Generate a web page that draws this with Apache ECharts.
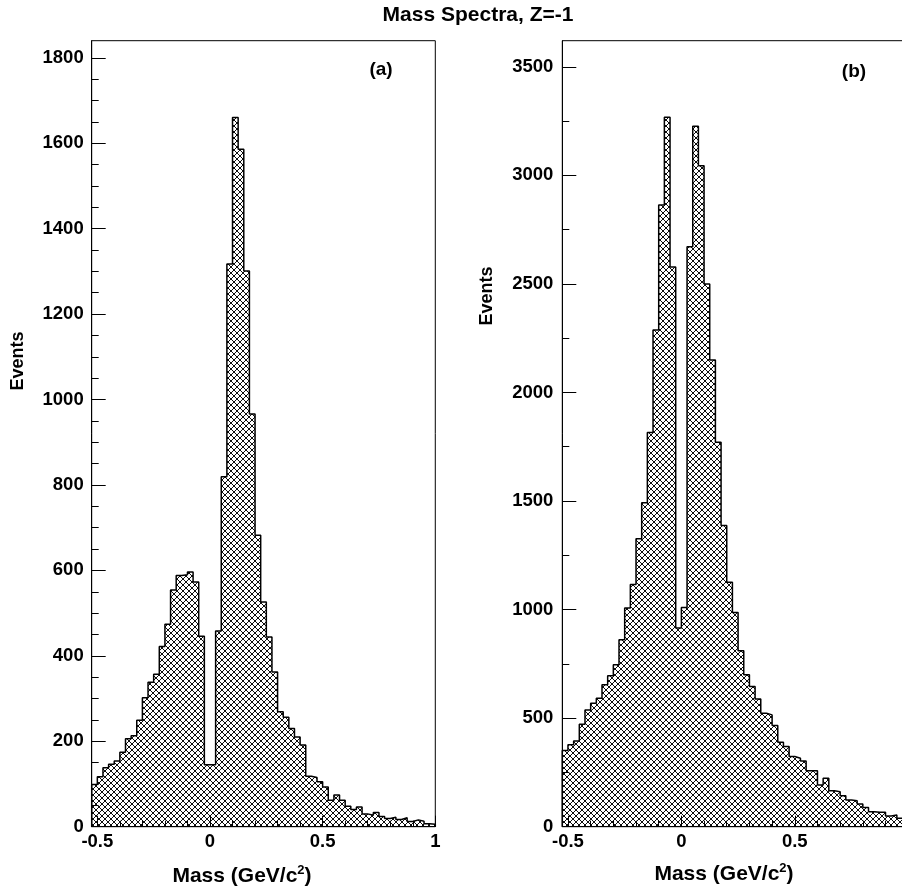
<!DOCTYPE html>
<html><head><meta charset="utf-8">
<script src="https://cdn.jsdelivr.net/npm/echarts@6/dist/echarts.min.js"></script>
<style>html,body{margin:0;padding:0;background:#fff}#c{width:902px;height:891px}</style>
</head><body><div id="c"></div>
<script>
// ---- data ----
const binStart = -0.525;
const binWidth = 0.025;
const countsA = [99,117,138,146,154,174,206,213,249,302,338,357,422,474,554,588,590,596,573,446,
  145,145,458,819,1317,1660,1586,1301,966,682,526,444,362,269,256,230,210,191,118,115,
  105,93,62,74,62,48,40,46,30,27,33,24,19,22,17,21,12,16,13,7,6];
const countsB = [351,377,395,472,538,569,592,654,695,746,861,1007,1115,1326,1492,1815,2288,2863,3267,2578,
  915,1010,2671,3226,3044,2499,2150,1771,1387,1126,987,810,700,646,588,523,515,466,389,369,
  323,315,303,258,258,192,223,166,161,142,123,120,105,88,69,66,66,49,54,39,35];
const xTickLabels = [-0.5, 0, 0.5, 1];
const xMinorTicks = [-0.4,-0.3,-0.2,-0.1,0.1,0.2,0.3,0.4,0.6,0.7,0.8,0.9];
const yTicksA = [0,200,400,600,800,1000,1200,1400,1600,1800];
const yTicksB = [0,500,1000,1500,2000,2500,3000,3500];
const titleText = 'Mass Spectra, Z=-1';
const xTitle = 'Mass (GeV/c{s|2})';
const yTitle = 'Events';
const panelLabels = ['(a)', '(b)'];

// ---- helpers ----
const FONT = '"Liberation Sans", Arial, Helvetica, sans-serif';
function minorList(step, major, max) {
  const out = [];
  for (let v = step; v < max; v += step) if (v % major !== 0) out.push(v);
  return out;
}
const yMinorA = minorList(50, 200, 1840);
const yMinorB = minorList(250, 500, 3620);

function histData(counts) {
  const d = [[binStart, 0]];
  counts.forEach((v, i) => d.push([+(binStart + i * binWidth).toFixed(4), v]));
  const end = +(binStart + counts.length * binWidth).toFixed(4);
  d.push([end, counts[counts.length - 1]]);
  d.push([end, 0]);
  return d;
}
function hatch() {
  const c = document.createElement('canvas');
  c.width = 6; c.height = 6;
  const g = c.getContext('2d');
  g.strokeStyle = '#000'; g.lineWidth = 0.95;
  g.beginPath();
  g.moveTo(-1, -1); g.lineTo(7, 7);
  g.moveTo(7, -1); g.lineTo(-1, 7);
  g.stroke();
  return c;
}
const pattern = { image: hatch(), repeat: 'repeat' };
const black = { color: '#000', width: 1 };
const labelStyle = { color: '#000', fontSize: 18.5, fontWeight: 'bold', fontFamily: FONT };

function xAxes(g) {
  return [
    { gridIndex: g, type: 'value', min: binStart, max: 1.0, position: 'bottom',
      axisLine: { show: true, onZero: false, lineStyle: black },
      axisTick: { show: true, inside: true, length: 11, customValues: xTickLabels, lineStyle: black },
      axisLabel: Object.assign({ show: true, customValues: xTickLabels, margin: 6, formatter: v => String(v) }, labelStyle),
      splitLine: { show: false } },
    { gridIndex: g, type: 'value', min: binStart, max: 1.0, position: 'bottom',
      axisLine: { show: false, onZero: false },
      axisTick: { show: true, inside: true, length: 6, customValues: xMinorTicks, lineStyle: black },
      axisLabel: { show: false }, splitLine: { show: false } }
  ];
}
function yAxes(g, max, majors, minors, margin) {
  return [
    { gridIndex: g, type: 'value', min: 0, max: max, position: 'left',
      axisLine: { show: true, onZero: false, lineStyle: black },
      axisTick: { show: true, inside: true, length: 14, customValues: majors, lineStyle: black },
      axisLabel: Object.assign({ show: true, customValues: majors, margin: margin, formatter: v => String(v) }, labelStyle),
      splitLine: { show: false } },
    { gridIndex: g, type: 'value', min: 0, max: max, position: 'left',
      axisLine: { show: false, onZero: false },
      axisTick: { show: true, inside: true, length: 7, customValues: minors, lineStyle: black },
      axisLabel: { show: false }, splitLine: { show: false } }
  ];
}
function histSeries(counts, xi, yi) {
  return {
    type: 'line', xAxisIndex: xi, yAxisIndex: yi, data: histData(counts),
    step: 'end', symbol: 'none', silent: true,
    lineStyle: { color: '#000', width: 1.5 },
    areaStyle: { color: pattern, opacity: 1 }
  };
}
function text(x, y, s, size, rot) {
  return { type: 'text', x: x, y: y, rotation: rot || 0, silent: true,
    style: { text: s, fill: '#000', font: 'bold ' + size + 'px ' + FONT, align: 'center', verticalAlign: 'middle',
      rich: { s: { fontSize: Math.round(size * 0.6), fontWeight: 'bold', fontFamily: FONT, fill: '#000', padding: [0, 0, Math.round(size * 0.55), 0] } } } };
}

const chart = echarts.init(document.getElementById('c'), null, { renderer: 'canvas', width: 902, height: 891 });
chart.setOption({
  animation: false,
  backgroundColor: '#fff',
  grid: [
    { left: 91.7, top: 40.7, width: 343.6, height: 786, show: true, borderColor: '#000', borderWidth: 1, backgroundColor: 'transparent', outerBoundsMode: 'none' },
    { left: 562.3, top: 40.7, width: 345.9, height: 786, show: true, borderColor: '#000', borderWidth: 1, backgroundColor: 'transparent', outerBoundsMode: 'none' }
  ],
  xAxis: [].concat(xAxes(0), xAxes(1)),
  yAxis: [].concat(yAxes(0, 1840, yTicksA, yMinorA, 8), yAxes(1, 3620, yTicksB, yMinorB, 9)),
  series: [histSeries(countsA, 0, 0), histSeries(countsB, 2, 2)],
  graphic: [
    text(478, 15.5, titleText, 21),
    text(381, 70, panelLabels[0], 19),
    text(854, 72, panelLabels[1], 19),
    text(242, 876, xTitle, 21),
    text(724, 874, xTitle, 21),
    text(18, 361, yTitle, 18, Math.PI / 2),
    text(487, 296, yTitle, 18, Math.PI / 2)
  ]
});
</script></body></html>
